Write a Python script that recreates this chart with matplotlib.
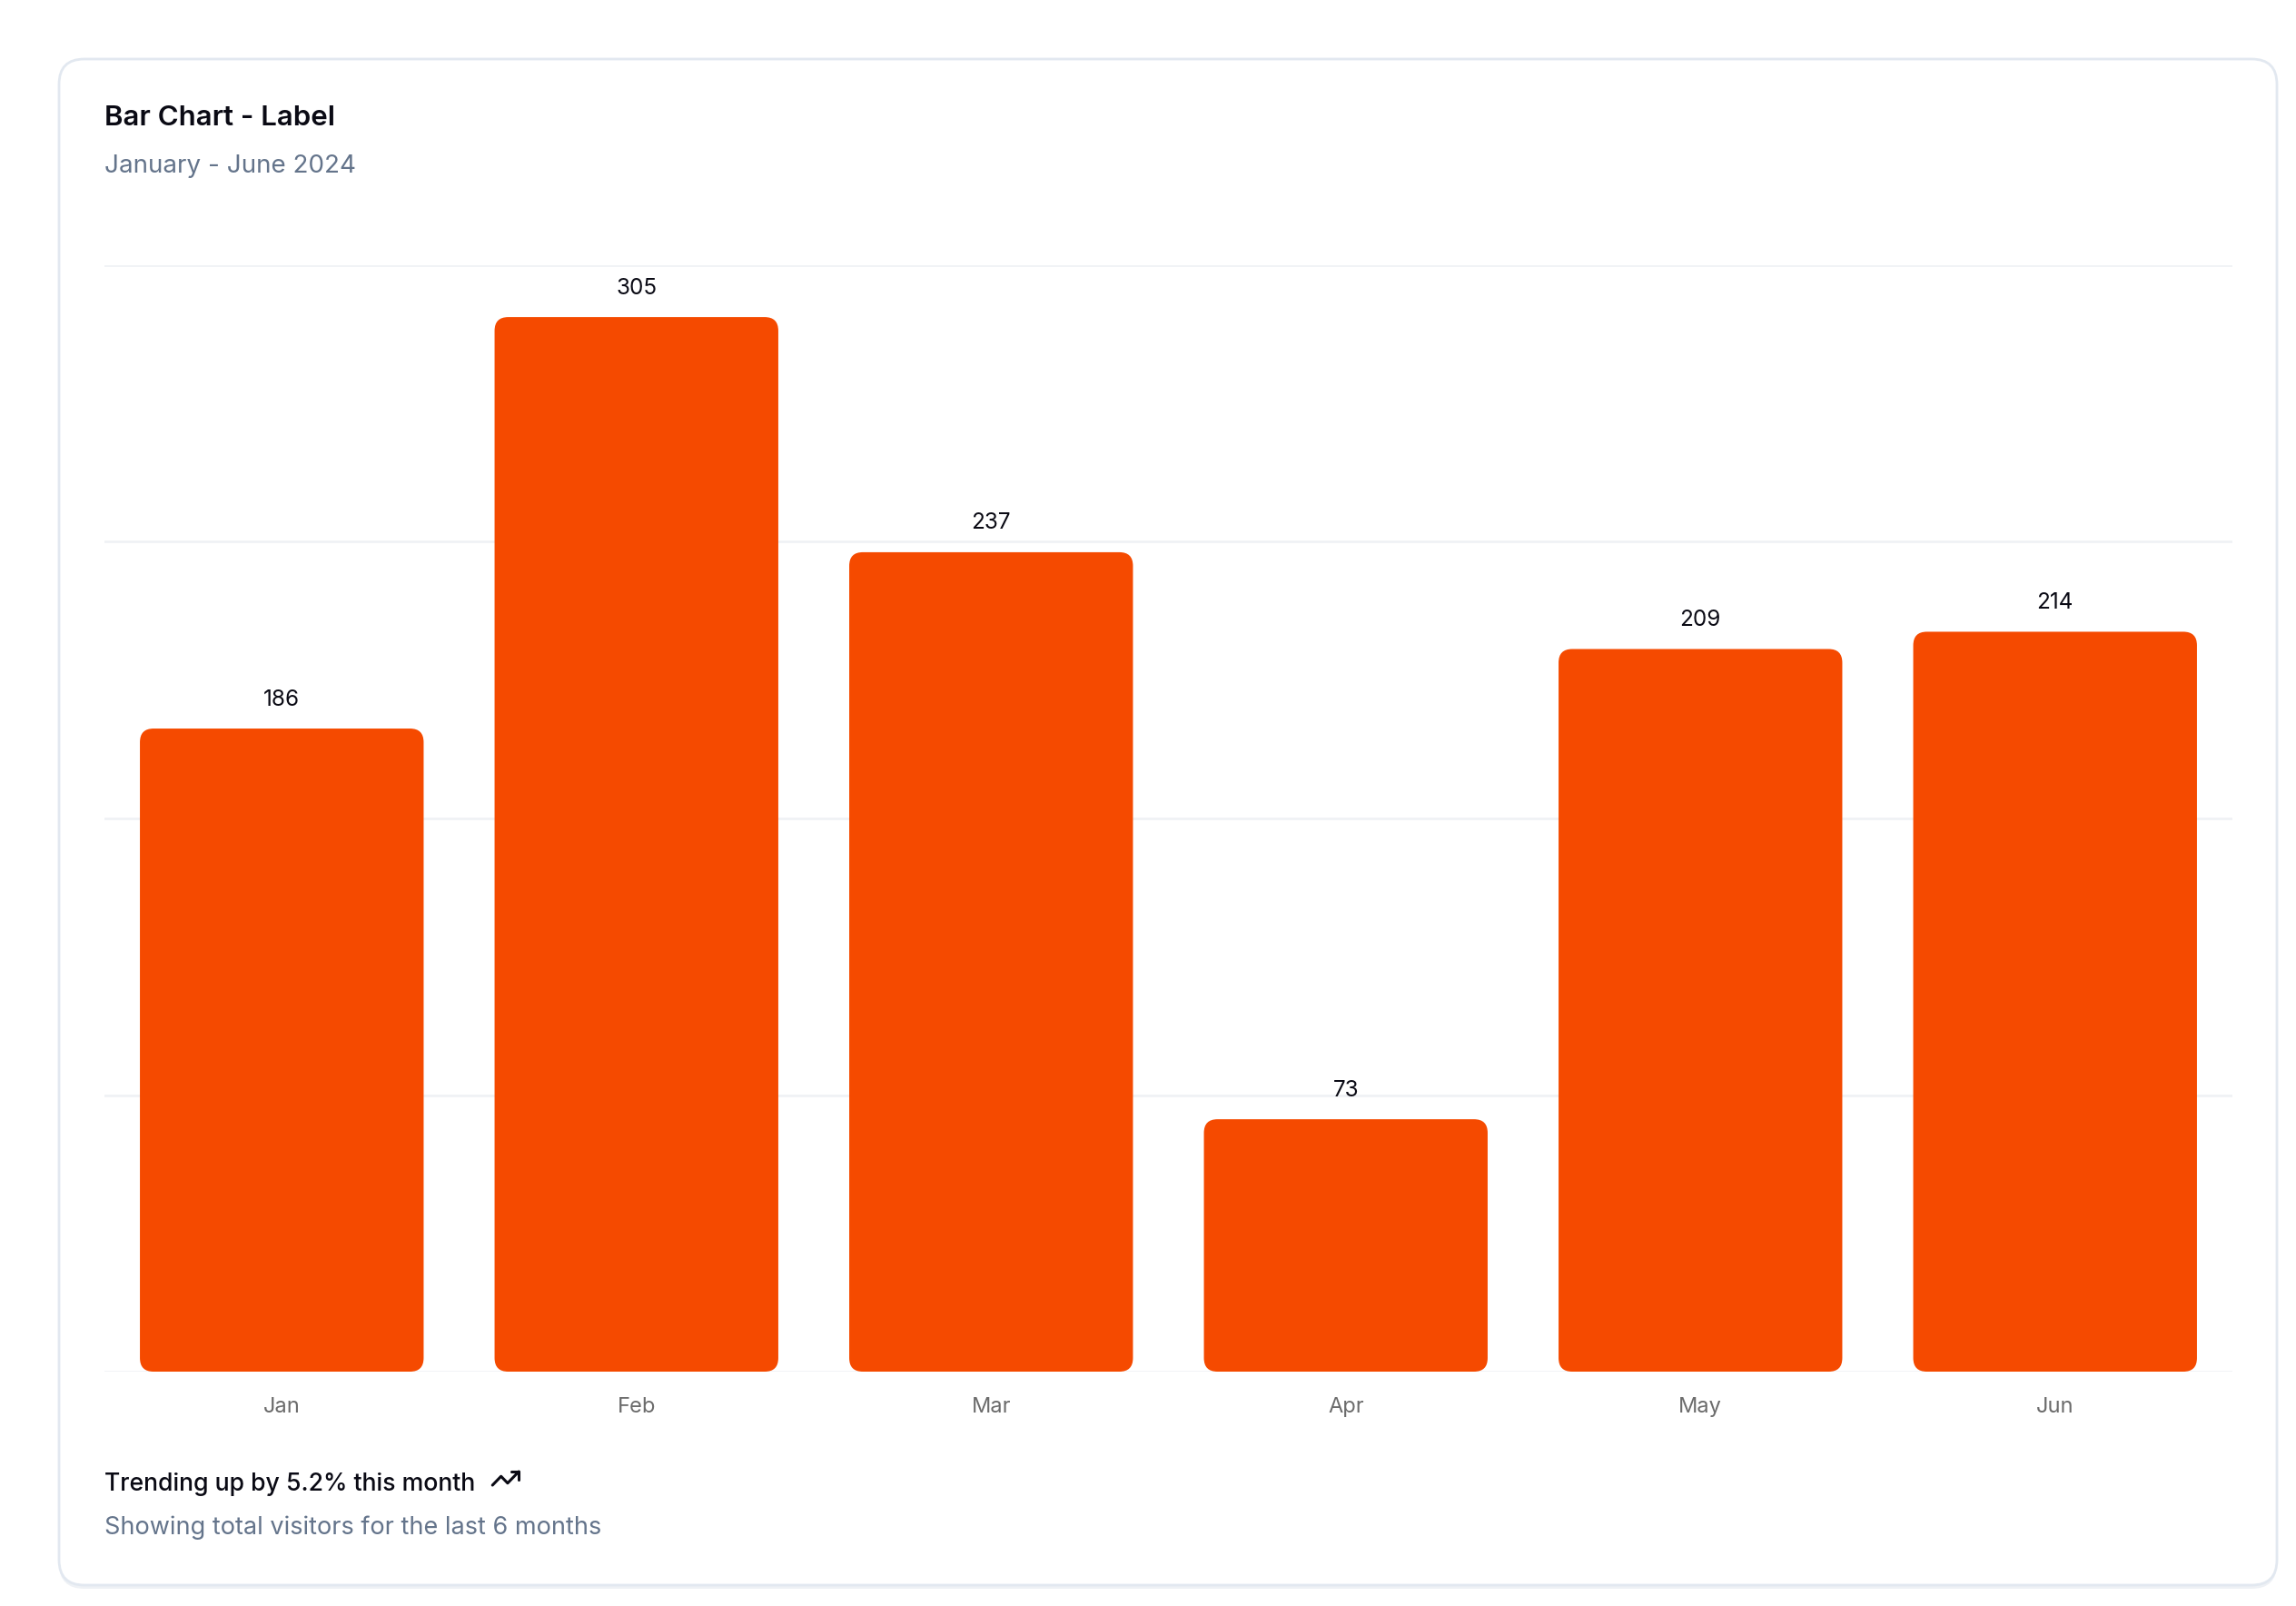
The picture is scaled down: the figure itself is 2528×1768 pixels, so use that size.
import matplotlib
matplotlib.use("Agg")
import matplotlib.pyplot as plt
from matplotlib.patches import FancyBboxPatch
from matplotlib.lines import Line2D

months = ["Jan", "Feb", "Mar", "Apr", "May", "Jun"]
visitors = [186, 305, 237, 73, 209, 214]
y_ticks = [0, 80, 160, 240, 320]

title = "Bar Chart - Label"
subtitle = "January - June 2024"
footer_main = "Trending up by 5.2% this month"
footer_sub = "Showing total visitors for the last 6 months"

W, H = 2528, 1768
DPI = 100
BAR_COLOR = "#f54a00"
MUTED = "#64748b"
INK = "#0a0a14"

plt.rcParams["font.family"] = ["Inter", "DejaVu Sans"]

fig = plt.figure(figsize=(W / DPI, H / DPI), dpi=DPI)
fig.patch.set_facecolor("white")


def fx(px):
    return px / W


def fy(py):
    # py measured from the top of the image
    return 1 - py / H


# card: soft shadow, then bordered rounded box
shadow = FancyBboxPatch((fx(65), fy(1749)), fx(2442), 1680 / H,
                        boxstyle="round,pad=0,rounding_size=0.011",
                        mutation_aspect=W / H, transform=fig.transFigure,
                        facecolor="#eef1f5", edgecolor="none", zorder=0)
fig.patches.append(shadow)
card = FancyBboxPatch((fx(65), fy(1745)), fx(2442), 1680 / H,
                      boxstyle="round,pad=0,rounding_size=0.011",
                      mutation_aspect=W / H, transform=fig.transFigure,
                      facecolor="white", edgecolor="#e2e8f0", linewidth=2, zorder=1)
fig.patches.append(card)

# header
fig.text(fx(115), fy(130), title, fontsize=22.5, fontweight="semibold", color=INK,
         va="center", ha="left", zorder=5)
fig.text(fx(115), fy(183), subtitle, fontsize=20, color=MUTED,
         va="center", ha="left", zorder=5)

# plot area
left, right, top, bottom = 115, 2458, 292, 1510
ax = fig.add_axes([fx(left), fy(bottom), fx(right - left), (bottom - top) / H])
ax.set_zorder(3)
ax.patch.set_alpha(0)
ax.set_xlim(-0.5, len(months) - 0.5)
ax.set_ylim(0, y_ticks[-1])
ax.set_yticks(y_ticks)
ax.set_yticklabels([])
ax.tick_params(axis="y", length=0)
ax.grid(axis="y", color="#f0f2f5", linewidth=2)
ax.set_axisbelow(True)
for s in ax.spines.values():
    s.set_visible(False)

bars = ax.bar(range(len(months)), visitors, width=0.8, color=BAR_COLOR)

# swap square bars for rounded ones
ax_w_px = right - left
ax_h_px = bottom - top
x_per_px = (len(months)) / ax_w_px
y_per_px = y_ticks[-1] / ax_h_px
radius_px = 15
for b in bars:
    x0, y0 = b.get_x(), b.get_y()
    bw, bh = b.get_width(), b.get_height()
    b.set_visible(False)
    rp = FancyBboxPatch((x0, y0), bw, bh,
                        boxstyle=f"round,pad=0,rounding_size={radius_px * x_per_px}",
                        mutation_aspect=y_per_px / x_per_px,
                        facecolor=BAR_COLOR, edgecolor="none", zorder=3)
    ax.add_patch(rp)

for i, v in enumerate(visitors):
    ax.annotate(str(v), (i, v), xytext=(0, 32), textcoords="offset pixels",
                ha="center", va="center", fontsize=17.5, color=INK)

ax.set_xticks(range(len(months)))
ax.set_xticklabels(months, fontsize=17, color="#6b6b6b")
ax.tick_params(axis="x", length=0, pad=20)

# footer
ft = fig.text(fx(115), fy(1634), footer_main, fontsize=19.2, fontweight="medium",
              color=INK, va="center", ha="left", zorder=5)
fig.text(fx(115), fy(1682), footer_sub, fontsize=19.5, color=MUTED,
         va="center", ha="left", zorder=5)

# trending-up icon after the footer text
fig.canvas.draw()
bb = ft.get_window_extent()
ix0 = bb.x1 + 19
iy_top = 1620
size = 29
pts = [(2, 17), (8.5, 10.5), (13.5, 15.5), (22, 7)]
head = [(16, 7), (22, 7), (22, 13)]
for seg in (pts, head):
    xs = [(ix0 + (p[0] - 2) / 20 * size) / W for p in seg]
    ys = [fy(iy_top + (p[1] - 7) / 10 * 15) for p in seg]
    fig.add_artist(Line2D(xs, ys, transform=fig.transFigure, color=INK,
                          linewidth=2.2, solid_capstyle="round",
                          solid_joinstyle="round", zorder=6))

fig.savefig("out.png", dpi=DPI)
